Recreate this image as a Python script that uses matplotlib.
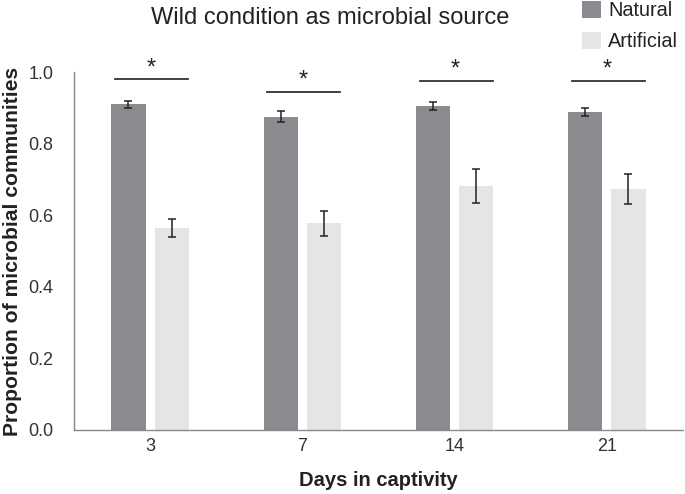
import matplotlib
matplotlib.use("Agg")
import matplotlib.pyplot as plt
import numpy as np

plt.rcParams['font.family'] = ['Liberation Sans', 'DejaVu Sans']

days = ["3", "7", "14", "21"]
natural = [0.910, 0.875, 0.906, 0.888]
natural_err = [0.010, 0.015, 0.011, 0.012]
artificial = [0.565, 0.577, 0.682, 0.672]
artificial_err = [0.025, 0.034, 0.047, 0.042]
sig_heights = [0.98, 0.945, 0.976, 0.976]
sig_labels = ["*", "*", "*", "*"]

fig = plt.figure(figsize=(6.85, 4.94), dpi=100)
ax = fig.add_axes([0.108, 0.1296, 0.889, 0.7246])

x = np.arange(len(days))
w = 0.225
off = 0.142
c_nat = "#8a8b8e"
c_art = "#e4e5e7"
ax.bar(x - off, natural, w, color=c_nat, label="Natural", zorder=2)
ax.bar(x + off, artificial, w, color=c_art, label="Artificial", zorder=2)
ax.errorbar(x - off, natural, yerr=natural_err, fmt="none", ecolor="#222222",
            elinewidth=1.1, capsize=3, capthick=1.1, zorder=3)
ax.errorbar(x + off, artificial, yerr=artificial_err, fmt="none", ecolor="#222222",
            elinewidth=1.1, capsize=3, capthick=1.1, zorder=3)

for xi, h, s in zip(x, sig_heights, sig_labels):
    ax.plot([xi - 0.23, xi + 0.25], [h, h], color="#333333", lw=1.3, clip_on=False)
    ax.text(xi + 0.005, h + 0.0, s, ha="center", va="bottom", fontsize=17,
            color="#222222", clip_on=False)

ax.set_xlim(-0.5, 3.5)
ax.set_ylim(0, 1.0)
ax.set_yticks([0.0, 0.2, 0.4, 0.6, 0.8, 1.0])
ax.set_yticklabels(["0.0", "0.2", "0.4", "0.6", "0.8", "1.0"])
ax.set_xticks(x)
ax.set_xticklabels(days)
ax.tick_params(axis="both", length=0, labelsize=13, colors="#333333")
ax.tick_params(axis="y", pad=15)
ax.tick_params(axis="x", pad=6)
for sp in ["top", "right"]:
    ax.spines[sp].set_visible(False)
for sp in ["left", "bottom"]:
    ax.spines[sp].set_color("#888888")
    ax.spines[sp].set_linewidth(1.0)

ax.set_ylabel("Proportion of microbial communities", fontsize=15.2,
              fontweight="bold", color="#222222", labelpad=4)
ax.set_xlabel("Days in captivity", fontsize=14.5, fontweight="bold",
              color="#222222", labelpad=11)
fig.text(0.482, 0.963, "Wild condition as microbial source", ha="center",
         va="center", fontsize=17, color="#222222")

leg = fig.legend(loc="upper left", bbox_to_anchor=(0.824, 1.035), frameon=False,
                 fontsize=14.3, handlelength=0.95, handleheight=0.95,
                 handletextpad=0.35, labelspacing=0.6)
for t in leg.get_texts():
    t.set_color("#222222")

fig.savefig("out.png", dpi=100)
